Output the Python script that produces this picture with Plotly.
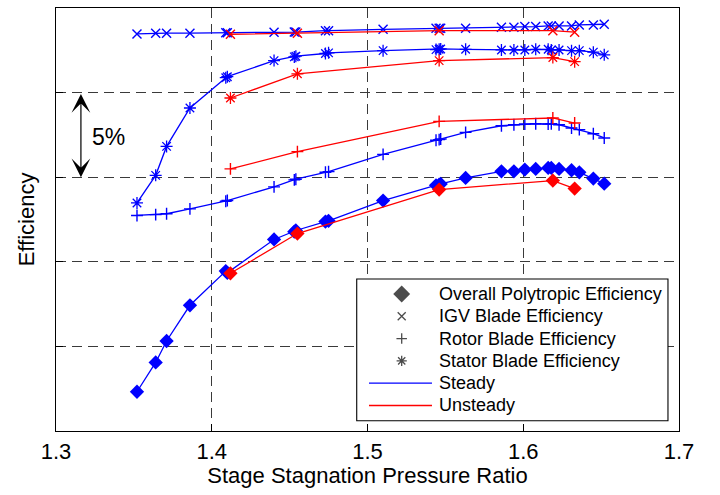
import plotly.graph_objects as go

# ---------------- data ----------------
steady_pr = [1.352, 1.364, 1.371, 1.386, 1.409, 1.410, 1.440, 1.453, 1.454,
             1.473, 1.475, 1.510, 1.544, 1.546, 1.547, 1.563, 1.586, 1.594,
             1.601, 1.608, 1.616, 1.618, 1.623, 1.631, 1.636, 1.645, 1.652]
steady_overall = [72.32, 74.05, 75.32, 77.43, 79.45, 79.35, 81.32, 81.78, 81.85,
                  82.38, 82.42, 83.62, 84.52, 84.56, 84.60, 84.96, 85.35, 85.35,
                  85.45, 85.49, 85.55, 85.55, 85.49, 85.41, 85.29, 84.92, 84.62]
steady_rotor = [82.74, 82.79, 82.84, 83.13, 83.58, 83.62, 84.43, 84.84, 84.88,
                85.29, 85.33, 86.35, 87.18, 87.22, 87.26, 87.65, 88.04, 88.10,
                88.14, 88.16, 88.14, 88.16, 88.10, 87.91, 87.81, 87.57, 87.32]
steady_stator = [83.48, 85.11, 86.82, 89.09, 90.88, 90.94, 91.89, 92.11, 92.15,
                 92.31, 92.35, 92.48, 92.54, 92.56, 92.58, 92.56, 92.52, 92.52,
                 92.52, 92.56, 92.56, 92.52, 92.52, 92.48, 92.48, 92.39, 92.23]
steady_igv = [93.47, 93.51, 93.51, 93.51, 93.54, 93.54, 93.57, 93.58, 93.58,
              93.66, 93.66, 93.74, 93.80, 93.80, 93.80, 93.80, 93.86, 93.86,
              93.90, 93.90, 93.94, 93.94, 93.94, 93.94, 94.00, 94.00, 94.04]

unsteady_pr = [1.412, 1.455, 1.546, 1.619, 1.633]
unsteady_overall = [79.32, 81.67, 84.27, 84.80, 84.33]
unsteady_rotor = [85.49, 86.51, 88.30, 88.50, 88.20]
unsteady_stator = [89.68, 91.11, 91.89, 92.07, 91.83]
unsteady_igv = [93.45, 93.51, 93.66, 93.66, 93.57]

x_ticks = [1.3, 1.4, 1.5, 1.6, 1.7]
y_grid = [75, 80, 85, 90]

legend_marker_labels = ["Overall Polytropic Efficiency", "IGV Blade Efficiency",
                        "Rotor Blade Efficiency", "Stator Blade Efficiency"]
legend_line_labels = ["Steady", "Unsteady"]

BLUE = "#0000ff"
RED = "#ff0000"
FONT = "Liberation Sans, Arial, Helvetica, sans-serif"
X_RANGE = [1.3, 1.7]
Y_RANGE = [70, 95]

marker_styles = {
    "overall": dict(symbol="diamond", size=11, lw=0),
    "igv": dict(symbol="x-thin", size=9, lw=1.4),
    "rotor": dict(symbol="cross-thin", size=8.5, lw=1.4),
    "stator": dict(symbol="asterisk", size=10, lw=1.3),
}

fig = go.Figure()

def add_series(x, y, color, key):
    st = marker_styles[key]
    fig.add_trace(go.Scatter(
        x=x, y=y, mode="lines+markers", showlegend=False,
        line=dict(color=color, width=1.3),
        marker=dict(color=color, symbol=st["symbol"], size=st["size"],
                    line=dict(color=color, width=st["lw"])),
    ))

for color, pr, series in [
    (BLUE, steady_pr, [("igv", steady_igv), ("stator", steady_stator),
                       ("rotor", steady_rotor), ("overall", steady_overall)]),
    (RED, unsteady_pr, [("igv", unsteady_igv), ("stator", unsteady_stator),
                        ("rotor", unsteady_rotor), ("overall", unsteady_overall)]),
]:
    for key, vals in series:
        add_series(pr, vals, color, key)

# ---------------- hand-built legend (fractions of the plot area) ----------------
leg_left, leg_right, leg_top, leg_bottom = 0.4827, 0.9823, 0.3593, 0.0243
row_y = [0.3239, 0.2712, 0.2184, 0.1657, 0.1130, 0.0603]
key_x = 0.5549
line_x0, line_x1 = 0.5024, 0.6035
text_x = 0.6120

def fx(f):
    return X_RANGE[0] + f * (X_RANGE[1] - X_RANGE[0])

def fy(f):
    return Y_RANGE[0] + f * (Y_RANGE[1] - Y_RANGE[0])

# legend frame: above the grid, below the traces
fig.add_shape(type="rect", xref="x", yref="y",
              x0=fx(leg_left), x1=fx(leg_right), y0=fy(leg_bottom), y1=fy(leg_top),
              fillcolor="white", line=dict(color="black", width=1.1),
              layer="between")

# legend key markers
leg_keys = ["overall", "igv", "rotor", "stator"]
leg_sym_sizes = [13, 8, 7.5, 8.5]
fig.add_trace(go.Scatter(
    x=[fx(key_x)] * 4, y=[fy(v) for v in row_y[:4]], mode="markers",
    showlegend=False, hoverinfo="skip",
    marker=dict(color="black",
                symbol=[marker_styles[k]["symbol"] for k in leg_keys],
                size=leg_sym_sizes,
                line=dict(color="black", width=[0, 1.3, 1.3, 1.3])),
))

for name, ry in zip(legend_marker_labels + legend_line_labels, row_y):
    fig.add_annotation(x=text_x, y=ry, xref="paper", yref="paper", text=name,
                       showarrow=False, xanchor="left", yanchor="middle",
                       font=dict(family=FONT, size=18, color="black"))
for color, ry in zip([BLUE, RED], row_y[4:]):
    fig.add_shape(type="line", xref="paper", yref="paper",
                  x0=line_x0, x1=line_x1, y0=ry, y1=ry,
                  line=dict(color=color, width=1.3))

axis_common = dict(
    showline=True, linecolor="black", linewidth=1.2, mirror=True,
    ticks="inside", ticklen=7, tickcolor="black", tickwidth=1,
    showgrid=True, gridcolor="#3a3a3a", gridwidth=1, griddash="10px,6px",
    zeroline=False,
)

fig.update_xaxes(
    range=X_RANGE, tickvals=x_ticks, tickformat=".1f",
    tickfont=dict(family=FONT, size=22, color="black"),
    ticklabelstandoff=0,
    title=dict(text="Stage Stagnation Pressure Ratio",
               font=dict(family=FONT, size=22, color="black"), standoff=4),
    **axis_common,
)
fig.update_yaxes(
    range=Y_RANGE, tickvals=y_grid, showticklabels=False,
    title=dict(text="Efficiency", font=dict(family=FONT, size=22, color="black"),
               standoff=14),
    **axis_common,
)

# 5% scale arrow
fig.add_annotation(
    x=1.316, y=85, ax=1.316, ay=90, xref="x", yref="y", axref="x", ayref="y",
    text="", showarrow=True, arrowhead=3, startarrowhead=3,
    arrowside="end+start", arrowsize=2.6, startarrowsize=2.6,
    arrowwidth=1.2, arrowcolor="black", standoff=0, startstandoff=0,
)
fig.add_annotation(
    x=1.3334, y=87.4, xref="x", yref="y", text="5%", showarrow=False,
    font=dict(family=FONT, size=23, color="black"),
)

fig.update_layout(
    width=720, height=495,
    margin=dict(l=56, r=41, t=8, b=64),
    paper_bgcolor="white", plot_bgcolor="white",
    font=dict(family=FONT, color="black"),
    showlegend=False,
)

fig.write_html("out.html")
